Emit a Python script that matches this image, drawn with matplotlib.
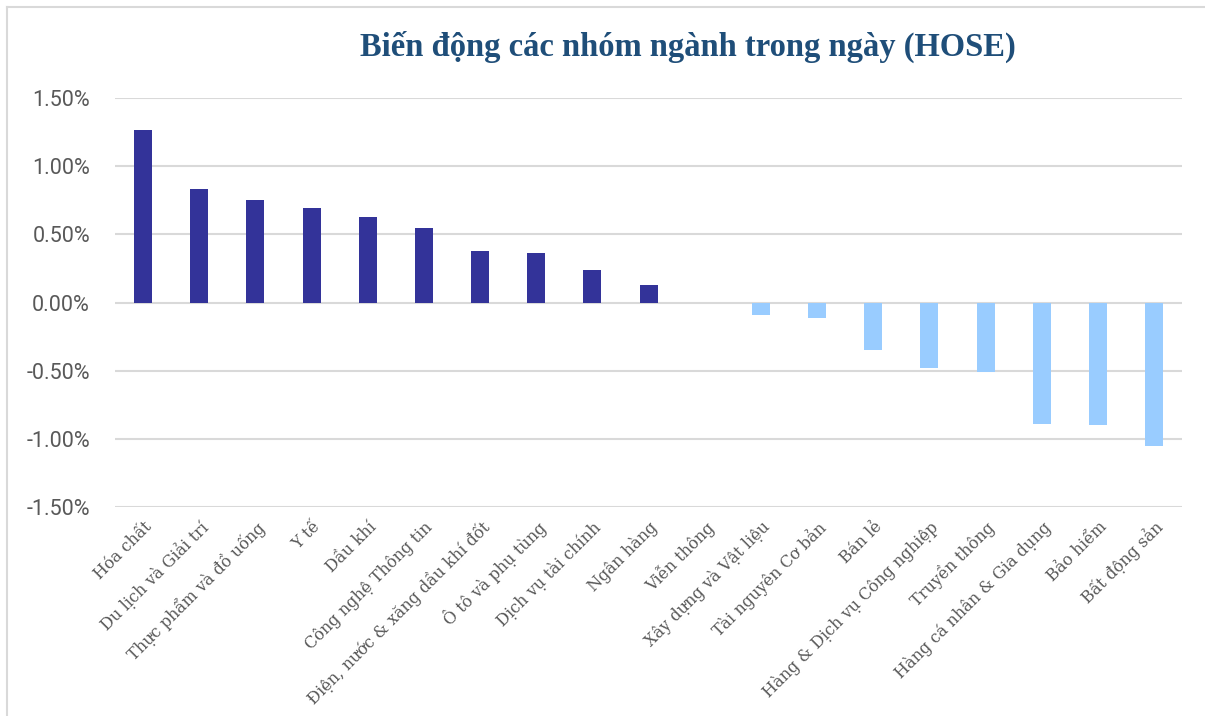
import matplotlib.pyplot as plt
import matplotlib.ticker as ticker
from matplotlib.lines import Line2D

# Dữ liệu (% thay đổi trong ngày)
nganh = [
    "Hóa chất", "Du lịch và Giải trí", "Thực phẩm và đồ uống", "Y tế", "Dầu khí",
    "Công nghệ Thông tin", "Điện, nước & xăng dầu khí đốt", "Ô tô và phụ tùng",
    "Dịch vụ tài chính", "Ngân hàng", "Viễn thông", "Xây dựng và Vật liệu",
    "Tài nguyên Cơ bản", "Bán lẻ", "Hàng & Dịch vụ Công nghiệp", "Truyền thông",
    "Hàng cá nhân & Gia dụng", "Bảo hiểm", "Bất động sản",
]
bien_dong = [
    1.265, 0.83, 0.75, 0.69, 0.63,
    0.545, 0.38, 0.36,
    0.235, 0.125, 0.0, -0.095,
    -0.11, -0.35, -0.478, -0.512,
    -0.888, -0.895, -1.054,
]
yticks = [-1.5, -1.0, -0.5, 0.0, 0.5, 1.0, 1.5]

mau_duong = "#333399"
mau_am = "#99CCFF"
colors = [mau_duong if v >= 0 else mau_am for v in bien_dong]

fig = plt.figure(figsize=(12.05, 7.16), dpi=100)
ax = fig.add_axes([0.0954, 0.2919, 0.8856, 0.5712])

x = list(range(len(nganh)))
ax.bar(x, bien_dong, width=0.32, color=colors, zorder=3)

ax.set_xlim(-0.5, len(nganh) - 0.5)
ax.set_ylim(-1.5, 1.5)
ax.set_yticks(yticks)
ax.yaxis.set_major_formatter(ticker.FuncFormatter(lambda v, p: f"{v:.2f}%"))
ax.grid(axis="y", color="#D9D9D9", linewidth=1.5, zorder=0)
for s in ax.spines.values():
    s.set_visible(False)
ax.tick_params(axis="y", length=0, pad=18, labelsize=15.5, labelcolor="#595959")
for lab in ax.get_yticklabels():
    lab.set_family("Roboto")

ax.set_xticks(x)
ax.set_xticklabels(nganh, rotation=45, ha="right", rotation_mode="anchor",
                   family="DejaVu Serif", fontsize=11.6, color="#595959")
ax.tick_params(axis="x", length=0, pad=8)

fig.text(0.571, 0.935, "Biến động các nhóm ngành trong ngày (HOSE)",
         ha="center", va="center", fontsize=23.5, fontweight="bold",
         family="Liberation Serif", color="#1F4E79")

# khung viền của biểu đồ
fig.add_artist(Line2D([0.006, 1.0], [0.990, 0.990], transform=fig.transFigure,
                      color="#D9D9D9", linewidth=1.5))
fig.add_artist(Line2D([0.006, 0.006], [0.0, 0.990], transform=fig.transFigure,
                      color="#D9D9D9", linewidth=1.5))

fig.savefig("out.png", dpi=100)
